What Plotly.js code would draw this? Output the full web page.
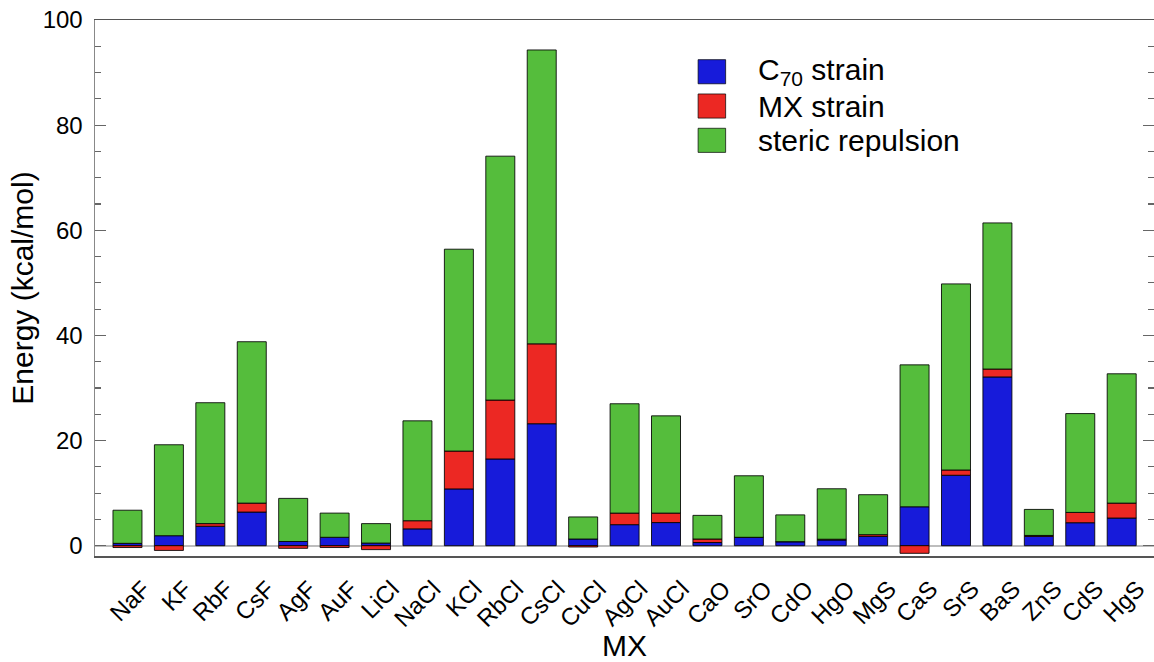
<!DOCTYPE html>
<html>
<head>
<meta charset="utf-8">
<script src="https://cdn.plot.ly/plotly-3.0.1.min.js"></script>
<style>html,body{margin:0;padding:0;background:#fff;}#chart{width:1154px;height:662px;}</style>
</head>
<body>
<div id="chart"></div>
<script>
var categories = ["NaF","KF","RbF","CsF","AgF","AuF","LiCl","NaCl","KCl","RbCl","CsCl","CuCl","AgCl","AuCl","CaO","SrO","CdO","HgO","MgS","CaS","SrS","BaS","ZnS","CdS","HgS"];
var c70Strain = [0.45, 1.9, 3.7, 6.4, 0.8, 1.6, 0.5, 3.2, 10.8, 16.5, 23.2, 1.27, 4.0, 4.4, 0.6, 1.6, 0.76, 1.08, 1.77, 7.4, 13.4, 32.1, 1.77, 4.37, 5.26];
var mxStrain = [-0.35, -0.9, 0.5, 1.7, -0.5, -0.35, -0.75, 1.55, 7.2, 11.2, 15.2, -0.25, 2.2, 1.8, 0.67, 0, 0, 0.15, 0.33, -1.45, 1.0, 1.5, 0.18, 1.96, 2.84];
var stericRepulsion = [6.3, 17.3, 23.0, 30.7, 8.2, 4.6, 3.7, 19.0, 38.4, 46.4, 55.9, 4.2, 20.8, 18.5, 4.5, 11.7, 5.1, 9.6, 7.6, 27.0, 35.4, 27.8, 4.95, 18.8, 24.6];
var seriesNames = ["C<sub>70</sub> strain", "MX strain", "steric repulsion"];
var seriesColors = ["#171bda", "#ec2823", "#55bd3c"];

var seriesData = [c70Strain, mxStrain, stericRepulsion];
var traces = seriesData.map(function(vals, i){
  return {
    type: "bar",
    x: categories.map(function(c, j){ return j; }),
    y: vals,
    name: seriesNames[i],
    width: 0.7,
    marker: {color: seriesColors[i], line: {color: "rgba(0,0,0,0.85)", width: 1}},
    showlegend: false,
    hoverinfo: "y"
  };
});

var shapes = [];
var annotations = [];
var legX0 = 0.5695, legX1 = 0.5955;
var legRows = [0.9035, 0.8395, 0.7755];
for (var i = 0; i < 3; i++) {
  shapes.push({type: "rect", xref: "paper", yref: "paper",
    x0: legX0, x1: legX1, y0: legRows[i] - 0.0225, y1: legRows[i] + 0.0225,
    fillcolor: seriesColors[i], line: {color: "rgba(0,0,0,0.7)", width: 1}});
  annotations.push({xref: "paper", yref: "paper", x: 0.6245, y: legRows[i],
    xanchor: "left", yanchor: "middle", showarrow: false, text: seriesNames[i],
    font: {size: 30, color: "#000"}});
}

var layout = {
  width: 1154, height: 662,
  margin: {l: 95, r: 0, t: 20, b: 106},
  paper_bgcolor: "#fff", plot_bgcolor: "#fff",
  font: {family: "Liberation Sans, Arial, sans-serif", color: "#000"},
  barmode: "relative",
  bargap: 0.3,
  xaxis: {
    range: [-0.784, 24.78],
    tickmode: "array",
    tickvals: categories.map(function(c, j){ return j; }),
    ticktext: categories,
    tickangle: -45,
    tickfont: {size: 24},
    ticks: "",
    ticklabelstandoff: 8,
    ticklabelshift: 16,
    showgrid: false, zeroline: false,
    showline: true, linecolor: "#555", linewidth: 1.5, mirror: true,
    title: {text: "MX", font: {size: 30}, standoff: 12}
  },
  yaxis: {
    range: [-1.96, 100],
    tickvals: [0, 20, 40, 60, 80, 100],
    ticks: "inside", ticklen: 11, tickwidth: 1.2, tickcolor: "#666",
    minor: {dtick: 5, ticks: "inside", ticklen: 6, tickwidth: 1.2, tickcolor: "#666"},
    tickfont: {size: 24},
    showgrid: false,
    zeroline: true, zerolinecolor: "#bdbdbd", zerolinewidth: 2,
    showline: true, linecolor: "#888", linewidth: 1.5, mirror: "ticks",
    ticklabelstandoff: 6,
    title: {text: "Energy (kcal/mol)", font: {size: 30}, standoff: 0}
  },
  shapes: shapes,
  annotations: annotations
};

Plotly.newPlot("chart", traces, layout, {displayModeBar: false, staticPlot: true});
</script>
</body>
</html>
